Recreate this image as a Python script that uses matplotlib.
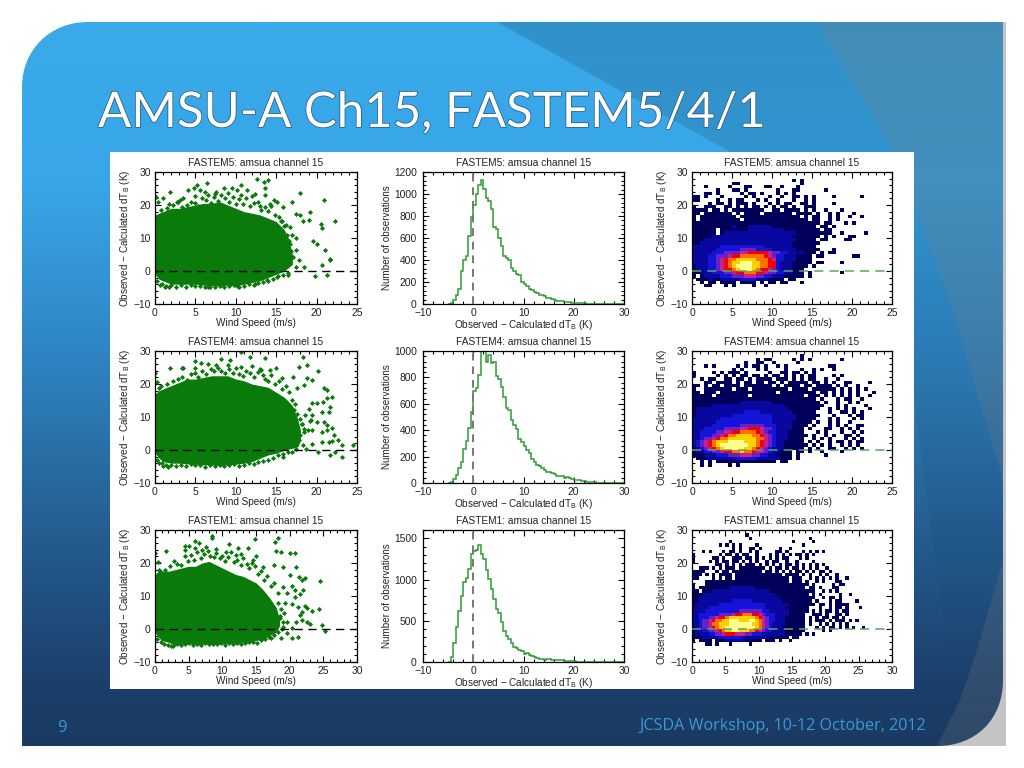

# AMSU-A channel 15 slide: FASTEM5/4/1 scatter, histogram, density panels

import numpy as np
import matplotlib
matplotlib.use("Agg")
import matplotlib.pyplot as plt
import matplotlib.patheffects as pe
from matplotlib.colors import LinearSegmentedColormap, ListedColormap
from matplotlib.patches import PathPatch, Polygon, Rectangle
from matplotlib.path import Path
from matplotlib.ticker import MultipleLocator

plt.rcParams["font.family"] = ["Liberation Sans", "DejaVu Sans"]
plt.rcParams["mathtext.default"] = "regular"

models = ["FASTEM5", "FASTEM4", "FASTEM1"]
wind_max = [25, 25, 30]
hist_ymax = [1200, 1000, 1600]
hist_ystep = [200, 200, 500]
hist_yminor = [40, 40, 100]

# saturated part of the scatter clouds: wind speed, lower edge, upper edge
f5_wind = [0, 0.5, 1, 2, 3, 4, 5, 6, 7, 8, 9, 10, 11, 12, 13, 14, 15, 16, 16.5, 17]
f5_low = [-1, -2.5, -3, -4, -4, -4, -4, -4.3, -4.5, -4.5, -4.3, -4.5, -4, -3.5, -3, -2, -1, 0, 1, 2]
f5_high = [17, 17.5, 18, 19, 19, 19.5, 20, 20.5, 20.5, 21, 20, 19, 18, 17.5, 17, 16, 15, 12.5, 10, 5]
f4_wind = [0, 0.5, 1, 2, 3, 4, 5, 6, 7, 8, 9, 10, 11, 12, 13, 14, 15, 16, 17, 17.7, 18]
f4_low = [-1, -2.5, -3.5, -4, -4, -4.2, -4.3, -4.5, -4.5, -4.7, -4.5, -4.3, -4, -3.5, -2.5, -1.5, -1, 0, 0.5, 1, 3]
f4_high = [17, 18, 18.5, 19.5, 20.5, 21.5, 21.5, 22, 22.5, 22.5, 22.5, 21.5, 21, 20, 19.5, 19, 17.5, 16, 13.5, 9, 6]
f1_wind = [0, 0.5, 1, 2, 3, 4, 5, 6, 7, 8, 9, 10, 11, 12, 13, 14, 15, 16, 17, 18, 18.5]
f1_low = [-1, -2.5, -3.5, -4, -5, -4.5, -4.5, -4.5, -4.5, -4.5, -4.5, -4.5, -4.3, -4.3, -4, -4, -3.5, -3, -2, -1, 1]
f1_high = [16.5, 17.5, 17.5, 17.5, 18, 18.5, 19, 19, 20, 20.5, 19.5, 18.5, 17.5, 16.5, 16, 15, 14, 12, 9.5, 6.5, 3]

# single points outside the clouds
f5_x = [12.6, 13.5, 14, 6.4, 5.2, 4.8, 4.1, 1.9, 1, 0.1, 0.4, 3.1, 2.7, 1.7, 5.6, 6.2, 7.4, 8.5, 9.5, 10.7, 10.1, 11.4,
        12.4, 13.6, 13.6, 14.7, 15.1, 15.9, 17, 17.9, 17.4, 18, 18.3, 19.2, 19.1, 20.9, 20.6, 20.7, 22.3, 19.5, 20, 21.1,
        21.7, 21.7, 20.7, 19.8, 21.3, 18.4, 17.8, 17.1, 17.5, 16.9, 16.7, 16.7, 17.4, 17.4, 16.5, 0.6, 1.2, 1.7, 6.6,
        10.1, 12.4, 13.8, 15.1,
        0.8, 1.5, 2.2, 2.8, 3.3, 3.9, 4.4, 4.9, 5.3, 5.8, 6.3, 6.9, 7.3, 7.8, 8.2, 8.7, 9.1, 9.6, 10, 10.4, 10.9, 11.3,
        11.8, 12.2, 12.7, 13.1, 13.6, 14, 14.4, 14.9, 15.3, 15.7, 16.2, 3.5, 5, 6.6, 7.5, 9, 10.6, 12, 13, 14.2,
        0.3, 0.9, 1.4, 2, 2.6, 3.2, 3.8, 4.4, 5, 5.6, 6.2, 6.8, 7.4, 8, 8.6, 9.2, 9.8, 10.4, 11, 11.6, 12.2, 12.8, 13.4,
        14, 14.6, 15.2, 15.8, 16.4,
        15.6, 16, 16.3, 16.6, 16.2, 15.9, 16.5, 16.1, 16.8, 16.4]
f5_y = [28, 27, 27.7, 26.8, 26, 25.2, 24.6, 24, 22, 22.5, 21, 21.4, 21, 20.4, 24.6, 24, 23.4, 25, 25.2, 26.2, 24.4, 24.6,
        23.4, 25, 23, 21.4, 21, 19.4, 21, 23.6, 17.4, 16.9, 15.2, 17.9, 15.6, 21.4, 14.3, 13.1, 15.2, 9.1, 8.3, 6.5,
        3.7, 3.2, 1.7, -1.6, -1.3, 1.2, 3.2, 4.2, 10.1, 10.8, 13.3, 8.3, 6.3, 1.2, -1.3, -4.3, -4.8, -4.8, -4.8,
        -4.6, -3.8, -2.8, -1.8,
        18.5, 19, 20, 21, 19.5, 20, 21, 20.5, 19.8, 22, 21.5, 20.6, 22.3, 21.3, 23, 22, 21, 22.5, 20.3, 21.8, 20.2, 22,
        19.6, 20.5, 21, 18.6, 19.5, 18.2, 19.8, 17, 16.5, 15.2, 14, 22.2, 22.8, 23, 24, 23.5, 23, 22.7, 19.8, 20.3,
        -3, -4, -4.5, -4.2, -4.8, -4.3, -4.7, -4.2, -4.6, -4.4, -5, -4.7, -5, -4.4, -4.7, -4.5, -4.2, -5, -4.4, -4, -4.3,
        -3.6, -3.2, -3, -2.5, -1.5, -1.2, -0.5,
        15, 13.5, 11, 9, 7, 5, 3, 1.5, 6, 2.5]
f4_x = [10.6, 11.7, 13.6, 18.3, 18.8, 17.8, 20.2, 4.9, 5.7, 8.2, 9.3, 1.8, 3.4, 0, 0.3, 0.5, 15, 14.2, 13.4, 15.7, 17.1,
        18.8, 19.4, 18.4, 17.6, 20.9, 21.3, 19.4, 20, 20.8, 21.3, 21.7, 21.9, 19.4, 20.7, 21.5, 19.2, 20, 20.9, 21.3,
        19.4, 20.7, 21.3, 21.9, 22.1, 20.7, 21.5, 21.9, 22.7, 23.2, 24.5, 19.4, 20.2, 21.7, 23.1, 22.3, 15.9, 17.3,
        18.2, 18.6, 18.4, 17.6, 0.5, 1, 1.6,
        0.8, 1.5, 2.2, 2.8, 3.3, 3.9, 4.4, 4.9, 5.3, 5.8, 6.3, 6.9, 7.3, 7.8, 8.2, 8.7, 9.1, 9.6, 10, 10.4, 10.9, 11.3,
        11.8, 12.2, 12.7, 13.1, 13.6, 14, 14.4, 14.9, 15.3, 15.7, 16.2, 16.6, 17, 17.3, 3.5, 5, 6.6, 7.5, 9, 10.6, 12, 13,
        0.3, 0.9, 1.4, 2, 2.6, 3.2, 3.8, 4.4, 5, 5.6, 6.2, 6.8, 7.4, 8, 8.6, 9.2, 9.8, 10.4, 11, 11.6, 12.2, 12.8, 13.4,
        14, 14.6, 15.2, 15.8, 16.4,
        17.2, 17.6, 17.9, 18.2, 18.5, 18, 17.8, 18.3, 18.7, 17.5, 16.9, 19, 19.3, 18.9]
f4_y = [29.6, 28.3, 27.8, 28.3, 25.8, 25.3, 24, 27, 26.3, 27.6, 27.3, 24.7, 24.7, 23.2, 20.7, 18.7, 25, 24.2, 22.7, 21.7,
        22.2, 21.7, 21.2, 19.7, 18.7, 18.7, 18.2, 14.1, 14.1, 14.6, 15.7, 13.1, 16.2, 10.6, 11.4, 11.6, 8.8, 8.6, 8.4,
        7.6, 6, 5.6, 6, 6.6, 4.6, 2.5, 2.5, 2.7, 3, 1.5, 1.5, 1.7, -0.5, -1.5, -2, -0.5, -2, 9.6, 8, 10.6, 5.6, 4.5,
        -4, -4.7, -5,
        19.5, 20, 21, 21.6, 22, 21.2, 23, 23.4, 22.2, 24, 23, 24.5, 23.8, 25, 24, 23.2, 24.6, 23.4, 24.8, 23, 22.5, 24,
        23.2, 22, 23.5, 24.2, 21.5, 21, 22.6, 20, 20.8, 18.5, 19.4, 17.5, 15.2, 14, 24.8, 25, 26, 25.8, 25.8, 25.2, 25.5,
        24.6,
        -3, -4, -4.5, -4.5, -4.7, -4.4, -4.8, -4.2, -4.6, -4.4, -5, -4.5, -4.8, -4.4, -4.9, -4.5, -4.2, -4.8, -4.4, -4, -4.2,
        -3.6, -3.2, -3, -2.5, -1.5, -1.2, -0.5,
        12, 11, 9.5, 8, 6.5, 4.5, 3, 1.5, 0.2, 0.4, -0.5, 12.5, 9, 6]
f1_x = [8.4, 8.5, 6, 6.6, 5.1, 4.4, 7.5, 11, 14.9, 18.2, 17.8, 17.9, 18.7, 20, 20.8, 1.7, 0, 0.4, 0.6, 12.3, 13.8, 12.8,
        14.6, 16, 17.6, 19, 21, 21.4, 22.3, 24.5, 20, 21.8, 19, 20.3, 20.8, 22, 19.6, 20.8, 21.5, 19.3, 20.3, 21.3, 22.3,
        22.5, 23.3, 24.4, 21.8, 21.5, 21.9, 21, 22.5, 23, 24.8, 25.3, 19.6, 18.6, 19, 20.4, 19.6, 20.3, 21.3, 18.7,
        17.3, 2.4,
        0.8, 1.5, 2.2, 2.8, 3.3, 3.9, 4.4, 4.9, 5.3, 5.8, 6.3, 6.9, 7.3, 7.8, 8.2, 8.7, 9.1, 9.6, 10, 10.4, 10.9, 11.3,
        11.8, 12.2, 12.7, 13.1, 13.6, 14, 14.4, 14.9, 15.3, 15.7, 16.2, 16.7, 17.2, 17.7, 18.2, 4.5, 6, 7, 9, 10.5, 12, 15,
        0.3, 0.9, 1.4, 2, 2.6, 3.2, 3.8, 4.4, 5, 5.6, 6.2, 6.8, 7.4, 8, 8.6, 9.2, 9.8, 10.4, 11, 11.6, 12.2, 12.8, 13.4,
        14, 14.6, 15.2, 15.8, 16.4, 17, 17.6, 18.2,
        18.3, 18.7, 18.5, 19, 18.9, 19.2]
f1_y = [28.3, 27.7, 26.7, 26, 25.2, 25.2, 25, 25.7, 27.2, 27.7, 26.3, 23.7, 23.2, 23.1, 22.9, 23.6, 22.9, 20.4, 17.9,
        24.4, 24.4, 22.6, 20.9, 18.9, 19.4, 18.9, 18.9, 15.9, 15.4, 14.6, 16.4, 14.9, 12.8, 13.1, 11.8, 11.8, 10.8, 9.8,
        10.5, 8, 7.5, 6.8, 7, 6.3, 5.5, 6, 5.3, 4.2, 2.7, 2.2, 2, 1.4, 1.2, -0.6, 2.2, 3.2, 0.7, 0.2, -1.3, -2.8, -2.3,
        -2.6, -2.6, -5.2,
        17.5, 18, 19, 20.5, 19.8, 19.5, 22, 20.6, 22.5, 21, 23.3, 21.5, 22.8, 23.5, 22, 21.7, 23, 21.5, 22.2, 20.6, 21.8,
        23.2, 20.2, 21, 19.5, 21.6, 19.8, 18.5, 20, 19.2, 16.6, 17.5, 15, 16, 13, 14, 11, 24, 24.5, 24, 24.2, 23.4, 22.3,
        22,
        -3, -3.9, -4.5, -4.7, -5, -4.6, -4.8, -4.5, -4.3, -4.8, -4.5, -4.7, -4.2, -4.6, -4.4, -4.6, -4.1, -4.9, -4.3, -4.4,
        -4.1, -4.6, -4.2, -4, -3.8, -4.1, -3.4, -3, -2.5, -1.8, -1,
        8, 6, 4, 2, 0, 5]

# histogram counts, 0.5 K bins starting at -5 K
hist_f5 = [0, 10, 40, 80, 140, 300, 400, 440, 620, 790, 900, 1000, 1080, 1130, 1050, 960, 940, 860, 700, 680, 600, 530,
           440, 420, 400, 330, 300, 270, 265, 200, 180, 160, 140, 130, 110, 100, 85, 80, 70, 50, 50, 45, 40, 30, 28, 25,
           20, 15, 14, 12, 10, 8, 7, 6, 5, 4, 3, 3, 2, 2, 1, 1, 1, 0, 0, 0, 0, 0, 0, 0]
hist_f4 = [0, 5, 30, 60, 115, 160, 260, 320, 420, 540, 700, 720, 820, 1000, 1000, 920, 970, 910, 920, 810, 790, 730, 650,
           570, 550, 480, 440, 410, 330, 310, 280, 250, 230, 180, 160, 140, 130, 110, 100, 85, 80, 75, 70, 55, 55, 50, 40,
           45, 35, 30, 22, 20, 20, 15, 12, 8, 6, 6, 5, 3, 3, 2, 2, 1, 1, 1, 0, 0, 0, 0]
hist_f1 = [0, 60, 230, 430, 620, 800, 970, 1020, 1130, 1310, 1340, 1360, 1420, 1310, 1250, 1120, 1010, 880, 760, 640, 590,
           480, 380, 320, 280, 230, 180, 170, 150, 130, 100, 110, 80, 70, 60, 50, 40, 35, 30, 40, 35, 30, 25, 20, 20, 20,
           15, 12, 10, 8, 8, 6, 6, 5, 5, 5, 4, 4, 3, 2, 2, 1, 1, 1, 0, 0, 0, 0, 0, 0]

# density cells, 0.5 m/s wide and 1 K high. First row is 29-30 K, last row -10 to -9 K.
# "." is an empty cell, 1-9 is low to high density. Short rows are empty on the right.
dens_f5 = [
    "", "",
    "." * 25 + "1.1",
    "." * 10 + "11" + "." * 15 + "1",
    "...1.....1...11...11..1...1",
    "......1...11.1.......1...11......1",
    "...11.1.....1.11.1...1.1.1",
    "11.1...1.....1.1...1..1..11.1.1....1......1",
    "11....1..1.11...1.1..1...1..1.1",
    "....1.11.1.111.1...1.1.11..11.1....1",
    "1..111..11.1.1.11.1.1.11.1..111",
    "1111.11.1.11111111..11.1111.1.1..1...1",
    "11.1111111.1.1111.1111111.1111.1..1.1...1",
    "1.111111111.111111111111111.1.11..1.1..1..1",
    "1.1111111111.1111111111111111.11..1.1",
    "11111111111111111111111111111111.11...1.1",
    "1111111111211122222211111111111.11.1",
    "111111.1111111222222222111111111.11",
    "111111.1222222222222222222111111111..1.....1",
    "11111222222222222222222221111111.1.1...11",
    "1112222222222222222222222211111.11....11",
    "11222222222222222222222221111111",
    "2222222333333333332222222111111",
    "22222233333344443333222222111111...1",
    "2222233344445566666544332222111.1.11",
    "222233444566777777654332221111.11.......11",
    "222233456778888877765332221111",
    "222233456788999887766322211111.11....1",
    "12223345678999988776632221111.1",
    "1222334566789998766543222111",
    "1122233344566777665443322111.1.......1",
    "1.12222333444555443322211111.1",
    ".1112112222233332221111.11",
    "..1.11.1111.1111.1.11.11...1",
    "...11...1.1....1..1",
    "", "", "", "", "",
]
dens_f4 = [
    "",
    "...........................1",
    "................1.11.....1.1.1.......1",
    ".............1..11..1.....1",
    "...1.1.....1.1.11.1..1.1..........11",
    "..........1.1...1.1....1...1..1.1..1",
    "1....1.1.111.1.....1..11.11.1.1",
    "1.....1.1.1.11.11.1.11.1.1.1.11....1.1",
    "..1.11..11.11.1.1111.111.1.1.11..1..1",
    "...11.1111.1.11.11.11.1.11111.11.1.1..11....1",
    "11.1.11.1111.1111111.1.1111.11.1111.1.1..1",
    "1..1111111.111.111111111.1111.111111.1.1.1.1",
    "11.111.11111111111111.111111111.11.1.1.1.1...1",
    "11111.11111111.1111111111111.111.1.1.1.1.1..1",
    "1111111111111111111111111111111.1...1.11..1",
    "11111111111122222222111111111111.1..1..1.1",
    "111112222222222222222221111111111...1.1....1",
    "12222222222222222222222211111111..1.1.1.1...1",
    "1222222222222333322222222111111...1..11.1.1",
    "12222222223333333333222222111111...1...1.11",
    "2222222333333333333322222211111...1.1...1.1",
    "222222333333333333332222211111.1..1.1..1",
    "22222333333344444433322221111.1...1.1.1..11",
    "2223333344445566654432222111.1...11..1.1.1",
    "2233334455667777654332221111...1.1...1..1.1",
    "22333445677888877654322211111.1..1.1..11.1",
    "2234456778888888775432221111..1.1.1...1.1.1",
    "2345678889999888765432211111.1.1..1.11.1.11",
    "23456789999999887654322111111.1.1.1..1.1.1",
    "1234567899999887654322211111.1.1..11..1.1.1",
    "1223344566778776554322111.11.1..1....1",
    "1112223334445554433221111.1......1",
    ".111222222233333222222111.1",
    "..1.1.111111111111111.11",
    "..1.1....1.1",
    "", "", "", "", "",
]
dens_f1 = [
    "",
    "................1",
    ".................1.................1",
    "...........1..................1.....1",
    "........1.1.1.1....1.............1",
    "............1.1..11.1.....1..1",
    "...1.1...1.11.1..1.1.....11.1....1.1.1.1",
    "1.......1.11.1.11..1...1.1.1.1.11.1.1",
    "1.....11.1..111.11.1.1.1.1.11...1.1",
    "1....1.1.11.11.1.1.1..1.11..1..1....1",
    ".......11.1.1.1.111.1.1.1.1.11.1.1.1.1.1",
    "..111.1.1.111.11111111.1.11.1.11.1.1.1..1",
    "1111...1.11.111111111.11.1.1.1.11.1.1.11.1",
    "111.1.1.1111.11111111111111.1111.1.1..1.1..1",
    "11....1.1.11.1111111111111111.111..1.1.1.1.1..1",
    "....1111111111111111111111111.111.1..1.1...11",
    "1...1111111111111111111111111111111.1.....1.11",
    "1.11111111122222222111111111111111.11.1...11",
    "11.1112222222222222222211111111111111..1.1.1",
    "11122222222222222222222221111111111.1.1.....1..1",
    "1122222222222222222222222211111111111..1.11.1",
    "112222222222333333222222222111111111.1...1.11....1",
    "1222222233333333333333222222211111111.11.1.1111",
    "12222333333333333333332222221111111...1..1.11.1...1",
    "22223333333333444444433222222111111.1.1.11.1.11",
    "2233333344445667776654333222211111..111.1..11.1",
    "2233344566788888888765433222111111.1.1.11.11.1",
    "2234456778899988899875433222111111.1.111.1.111.1.1",
    "2234457788899999998875432222111111.1..1.1.1.1.1",
    "1234456788999999999875432221111111...1.1.11.1.1.1..1",
    "1223344567889988877654332222111111.....1.1",
    "122223344566655544333222222211111.1.1",
    "11122222333333322222222111111.11",
    "1.1111.11122222211111.111.1..1",
    "....11.1...1.....1",
    "", "", "", "", "",
]

scatter_wind = [f5_wind, f4_wind, f1_wind]
scatter_low = [f5_low, f4_low, f1_low]
scatter_high = [f5_high, f4_high, f1_high]
scatter_x = [f5_x, f4_x, f1_x]
scatter_y = [f5_y, f4_y, f1_y]
hists = [hist_f5, hist_f4, hist_f1]
densities = [dens_f5, dens_f4, dens_f1]

W, H = 1024, 768
row_tops = [172, 351, 530]
row_bottoms = [304, 483, 662]
columns = [(155, 357), (423, 624), (692, 892)]

ylabel_dtb = r"Observed $-$ Calculated dT$_B$ (K)"

dens_cmap = ListedColormap(["#00005a", "#0808a0", "#1414d8", "#6a20c8", "#c82090",
                            "#f00000", "#ff7000", "#ffd000", "#ffff90"])
bg_cmap = LinearSegmentedColormap.from_list(
    "slide", [(0.0, "#3aaaeb"), (0.22, "#38a6e8"), (0.45, "#2f86c4"),
              (0.69, "#255f94"), (0.92, "#1b3f6a"), (1.0, "#1a3a62")])


def px_axes(fig, x0, x1, top, bottom):
    return fig.add_axes([x0 / W, 1 - bottom / H, (x1 - x0) / W, (bottom - top) / H])


def style_axes(ax, title, xlabel, ylabel, xstep, xminor, ystep, yminor, ypad=3):
    ax.set_title(title, fontsize=7.3, color="#222222", pad=4)
    ax.set_xlabel(xlabel, fontsize=7.2, color="#222222", labelpad=0)
    ax.set_ylabel(ylabel, fontsize=7.1, color="#222222", labelpad=1)
    ax.xaxis.set_major_locator(MultipleLocator(xstep))
    ax.xaxis.set_minor_locator(MultipleLocator(xminor))
    ax.yaxis.set_major_locator(MultipleLocator(ystep))
    ax.yaxis.set_minor_locator(MultipleLocator(yminor))
    ax.tick_params(which="both", direction="in", top=True, right=True, width=0.8)
    ax.tick_params(which="major", length=4, labelsize=7.4, labelcolor="#222222")
    ax.tick_params(axis="x", which="major", pad=3)
    ax.tick_params(axis="y", which="major", pad=ypad)
    ax.tick_params(which="minor", length=2)
    for spine in ax.spines.values():
        spine.set_linewidth(0.9)


def draw_background(fig):
    bg = fig.add_axes([0, 0, 1, 1])
    bg.set_xlim(0, W)
    bg.set_ylim(H, 0)
    bg.axis("off")
    bg.add_patch(Rectangle((22, 22), 984, 724, fc="#c4c4c4", ec="none", zorder=0))
    bg.add_patch(Rectangle((0, 0), 88, 86, fc="white", ec="none", zorder=0.5))
    verts = [(22, 87), (22, 50), (50, 22), (88, 22), (1003, 22), (1003, 680),
             (1003, 720), (975, 746), (937, 746), (22, 746), (22, 87)]
    codes = [Path.MOVETO, Path.CURVE4, Path.CURVE4, Path.CURVE4, Path.LINETO, Path.LINETO,
             Path.CURVE4, Path.CURVE4, Path.CURVE4, Path.LINETO, Path.CLOSEPOLY]
    shape = PathPatch(Path(verts, codes), fc="none", ec="none", zorder=1)
    bg.add_patch(shape)
    grad = np.linspace(0, 1, 256).reshape(-1, 1)
    im = bg.imshow(grad, cmap=bg_cmap, extent=(22, 1003, 746, 22), aspect="auto", zorder=1)
    im.set_clip_path(shape)
    # darker band, fades out towards the bottom of the slide
    band = Polygon([(497, 22), (610, 85), (727, 150), (914, 400), (960, 746), (1003, 746), (1003, 22)],
                   fc="none", ec="none", zorder=2)
    bg.add_patch(band)
    shade = np.zeros((256, 2, 4))
    shade[:, :, 3] = np.linspace(0.14, 0, 256).reshape(-1, 1)
    shade_im = bg.imshow(shade, extent=(22, 1003, 700, 22), aspect="auto", zorder=2)
    shade_im.set_clip_path(band)
    top_light = Polygon([(817, 22), (893, 150), (950, 300), (1003, 480), (1003, 22)],
                        fc="#808080", alpha=0.22, ec="none", zorder=2)
    bg.add_patch(top_light)
    low_light = Polygon([(937, 746), (960, 700), (977, 650), (1003, 560), (1003, 746)],
                        fc="#808080", alpha=0.22, ec="none", zorder=2)
    bg.add_patch(low_light)
    low_light.set_clip_path(shape)
    bg.set_xlim(0, W)
    bg.set_ylim(H, 0)
    bg.add_patch(Rectangle((110, 152), 804, 537, fc="white", ec="none", zorder=3))
    bg.text(98, 127, "AMSU-A Ch15, FASTEM5/4/1", family="Lato", fontsize=35.4,
            color="white", zorder=4, va="baseline",
            path_effects=[pe.Stroke(linewidth=1.0, foreground="#27527a"), pe.Normal()])
    bg.text(62, 728, "9", family="Open Sans", fontsize=12, color="#3b9ad6", ha="center", va="center", zorder=4)
    bg.text(926, 726, "JCSDA Workshop, 10-12 October, 2012", family="Open Sans", fontsize=11.6,
            color="#3b9ad6", ha="right", va="center", zorder=4)


def draw_scatter(ax, i):
    ax.fill_between(scatter_wind[i], scatter_low[i], scatter_high[i], color="#0a7a0a", lw=0, zorder=2)
    ax.plot(scatter_x[i], scatter_y[i], ls="none", marker="D", ms=2.6, color="#0a7a0a", mew=0, zorder=2)
    ax.axhline(0, color="black", lw=1.0, ls=(0, (6, 4)), zorder=3)
    ax.set_xlim(0, wind_max[i])
    ax.set_ylim(-10, 30)
    style_axes(ax, models[i] + ": amsua channel 15", "Wind Speed (m/s)", ylabel_dtb, 5, 1, 10, 2)


def draw_hist(ax, i):
    counts = np.array(hists[i])
    edges = -5 + 0.5 * np.arange(len(counts) + 1)
    ax.stairs(counts, edges, color="#2f9a35", lw=1.1, zorder=2)
    ax.axvline(0, color="#777777", lw=1.4, ls=(0, (4, 3)), zorder=3)
    ax.set_xlim(-10, 30)
    ax.set_ylim(0, hist_ymax[i])
    style_axes(ax, models[i] + ": amsua channel 15", ylabel_dtb, "Number of observations",
               10, 2, hist_ystep[i], hist_yminor[i], ypad=4.5)


def draw_density(ax, i):
    ncols = wind_max[i] * 2
    grid = np.full((len(densities[i]), ncols), np.nan)
    for r, row in enumerate(densities[i]):
        for c, ch in enumerate(row[:ncols]):
            if ch != ".":
                grid[r, c] = int(ch)
    xedges = np.arange(ncols + 1) * 0.5
    yedges = 30 - np.arange(len(densities[i]) + 1)
    ax.pcolormesh(xedges, yedges, grid, cmap=dens_cmap, vmin=0.5, vmax=9.5, zorder=2)
    ax.axhline(0, color="#5aa85a", lw=1.1, ls=(0, (6, 4)), zorder=3)
    ax.set_xlim(0, wind_max[i])
    ax.set_ylim(-10, 30)
    style_axes(ax, models[i] + ": amsua channel 15", "Wind Speed (m/s)", ylabel_dtb, 5, 1, 10, 2)


fig = plt.figure(figsize=(W / 100, H / 100), dpi=100, facecolor="white")
draw_background(fig)

for i in range(3):
    top, bottom = row_tops[i], row_bottoms[i]
    draw_scatter(px_axes(fig, *columns[0], top, bottom), i)
    draw_hist(px_axes(fig, *columns[1], top, bottom), i)
    draw_density(px_axes(fig, *columns[2], top, bottom), i)

fig.savefig("out.png", dpi=100)
